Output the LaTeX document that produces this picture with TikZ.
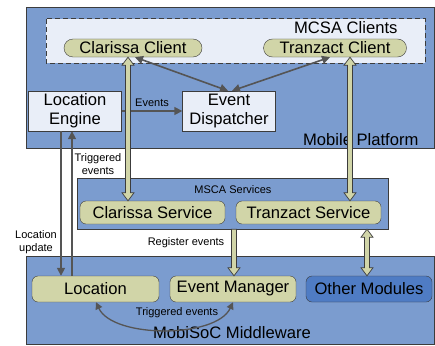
\documentclass[tikz,border=0pt]{standalone}
\usepackage{fontspec}
\setmainfont{Liberation Sans}
\usetikzlibrary{arrows.meta,calc}
\definecolor{bgblue}{HTML}{7B9CCF}
\definecolor{lightbox}{HTML}{E9EEF8}
\definecolor{olive}{HTML}{D1D5A8}
\definecolor{modblue}{HTML}{4F7CC4}
\definecolor{dk}{HTML}{3C3C3C}
\definecolor{arr}{HTML}{555555}
\tikzset{
	big/.style={font=\fontsize{16.6}{19}\selectfont},
	small/.style={font=\fontsize{11}{13}\selectfont},
	pill/.style={draw=dk, fill=olive, rounded corners=#1, big, inner sep=0pt},
	plainbox/.style={draw=dk, fill=lightbox, big, align=center, inner sep=0pt},
	layer/.style={draw=dk, fill=bgblue, inner sep=0pt},
	thin arrow/.style={draw=arr, line width=1.6pt, -{Triangle[width=8pt,length=8pt]}},
	both tips/.style={{Triangle[width=8pt,length=8pt]}-{Triangle[width=8pt,length=8pt]}},
	fat arrow/.style={draw=dk, fill=olive, line width=0.7pt, line join=miter}
}
%fat vertical arrows, from the upper point down to the lower one
\newcommand{\fatdouble}[2]{%
	\draw[fat arrow] let \p1=(#1), \p2=(#2) in
		(\x1,\y1) -- (\x1+6pt,\y1-8pt) -- (\x1+2.5pt,\y1-8pt) -- (\x1+2.5pt,\y2+8pt) -- (\x1+6pt,\y2+8pt)
		-- (\x1,\y2) -- (\x1-6pt,\y2+8pt) -- (\x1-2.5pt,\y2+8pt) -- (\x1-2.5pt,\y1-8pt) -- (\x1-6pt,\y1-8pt) -- cycle;}
\newcommand{\fatsingle}[2]{%
	\draw[fat arrow] let \p1=(#1), \p2=(#2) in
		(\x1+2.5pt,\y1) -- (\x1+2.5pt,\y2+8pt) -- (\x1+6pt,\y2+8pt)
		-- (\x1,\y2) -- (\x1-6pt,\y2+8pt) -- (\x1-2.5pt,\y2+8pt) -- (\x1-2.5pt,\y1) -- cycle;}
\begin{document}
\begin{tikzpicture}[x=1pt, y=-1pt]
		\useasboundingbox (0,0) rectangle (435,345);
		
		%Mobile Platform
		\node[layer, minimum width=408pt, minimum height=141pt] (mob) at (230,77.5) {};
		\draw[draw=dk, fill=lightbox, line width=1pt, dash pattern=on 5pt off 3pt] (46,19) rectangle (425,63);
		\node[big, anchor=east] (mc) at (401,28) {MCSA Clients};
		\node[pill=9pt, minimum width=138pt, minimum height=18pt] (cc) at (133,48) {Clarissa Client};
		\node[pill=9pt, minimum width=143pt, minimum height=18pt] (tc) at (335,48) {Tranzact Client};
		\node[plainbox, minimum width=93pt, minimum height=40pt] (le) at (75,111) {Location\\Engine};
		\node[plainbox, minimum width=93pt, minimum height=40pt] (ed) at (229,111) {Event\\Dispatcher};
		\node[big, anchor=east] (mp) at (422,140) {Mobile Platform};
		
		%MSCA Services
		\node[layer, minimum width=311pt, minimum height=51pt] (msb) at (232.5,203.5) {};
		\node[small] (ms) at (233,190) {MSCA Services};
		\node[pill=6pt, minimum width=145pt, minimum height=23pt] (cs) at (152.5,212.5) {Clarissa Service};
		\node[pill=6pt, minimum width=145pt, minimum height=23pt] (ts) at (308.5,212.5) {Tranzact Service};
		
		%MobiSoC Middleware
		\node[layer, minimum width=408pt, minimum height=88pt] (mid) at (230,300) {};
		\node[pill=6pt, minimum width=127pt, minimum height=26pt] (lo) at (95.5,289) {Location};
		\node[pill=6pt, minimum width=126pt, minimum height=26pt] (em) at (233,289) {Event Manager};
		\node[pill=6pt, fill=modblue, minimum width=126pt, minimum height=26pt] (om) at (369,289) {Other Modules};
		\node[big] (mm) at (232,333) {MobiSoC Middleware};
		
		%Thin arrows
		\draw[thin arrow, both tips] ([xshift=2pt]cc.south) -- ([xshift=-1pt]ed.north);
		\draw[thin arrow, both tips] ([xshift=-5pt]tc.south) -- ([xshift=3pt]ed.north);
		\draw[thin arrow] (le.east) -- node[small, above] (ev) {Events} (ed.west);
		\coordinate (xa) at (61,0);
		\coordinate (xb) at (72,0);
		\draw[thin arrow] (le.south -| xa) -- (lo.north -| xa);
		\draw[thin arrow] (lo.north -| xb) -- (le.south -| xb);
		\node[small, align=center] (te) at (98,164) {Triggered\\events};
		\node[small, align=center] (lu) at (36,242) {Location\\update};
		\draw[thin arrow, line width=1.3pt, {Triangle[width=7pt,length=7pt]}-{Triangle[width=7pt,length=7pt]}] ([xshift=0.5pt]lo.south) to[out=-65, in=-115, looseness=0.75] (em.south);
		\node[small] (tr) at (177,313) {Triggered events};
		
		%Fat arrows
		\coordinate (xc) at (128,0);
		\coordinate (xd) at (350,0);
		\coordinate (xe) at (234,0);
		\coordinate (xf) at (367,0);
		\fatdouble{cc.south -| xc}{cs.north -| xc}
		\fatdouble{tc.south -| xd}{ts.north -| xd}
		\fatsingle{msb.south -| xe}{em.north -| xe}
		\fatdouble{msb.south -| xf}{om.north -| xf}
		\node[small] (re) at (186,243) {Register events};
	\end{tikzpicture}
\end{document}
